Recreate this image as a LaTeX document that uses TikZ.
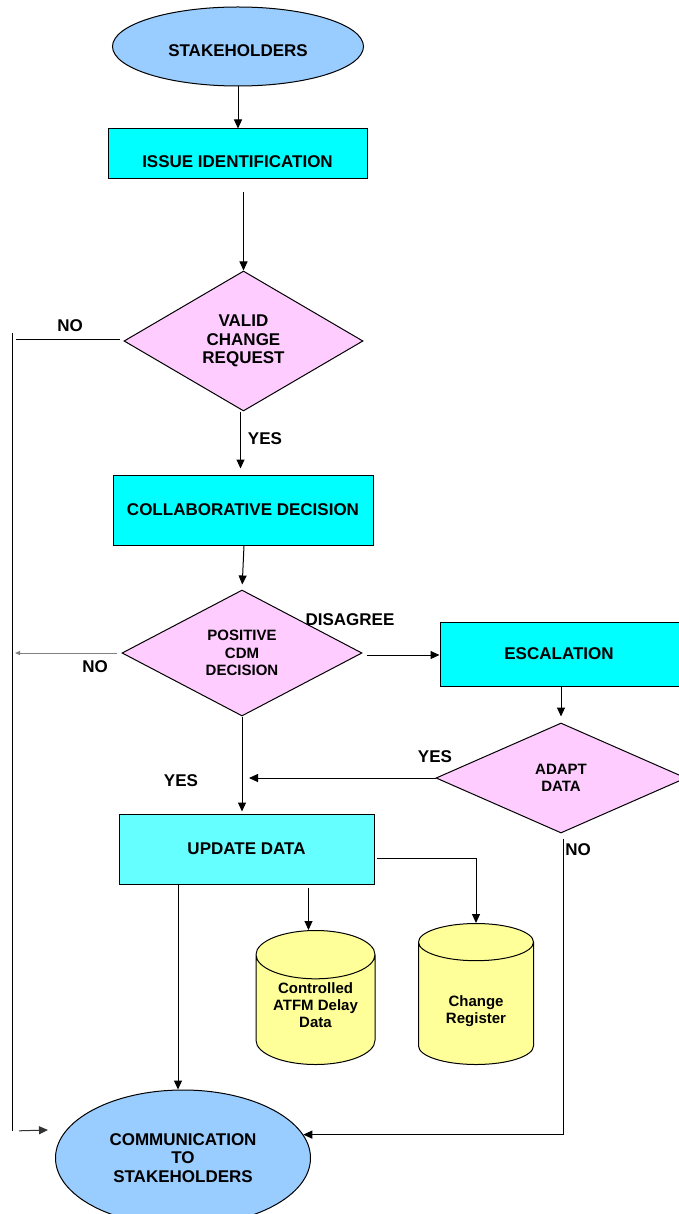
\documentclass[tikz,border=0pt]{standalone}
\usepackage{fontspec}
\setmainfont{Liberation Sans}
\usetikzlibrary{shapes.geometric,arrows.meta}
\definecolor{skyb}{HTML}{99CCFF}
\definecolor{aqua}{HTML}{00FFFF}
\definecolor{aqub}{HTML}{66FFFF}
\definecolor{pnk}{HTML}{FFCCFF}
\definecolor{yelw}{HTML}{FFFF99}
\tikzset{
    EL/.style ={ellipse,draw,fill=skyb,inner sep=0pt,align=center},
    RB/.style ={rectangle,draw,fill=aqua,inner sep=0pt,align=center},
    DI/.style ={diamond,draw,fill=pnk,inner sep=0pt,align=center},
    CY/.style ={cylinder,shape border rotate=90,draw,cylinder uses custom fill,
        cylinder body fill=yelw,cylinder end fill=yelw,inner sep=0pt,align=center,
        anchor=south,font=\bfseries\fontsize{15}{17}\selectfont},
    SM/.style ={font=\bfseries\fontsize{15}{17.5}\selectfont},
    LB/.style ={inner sep=0pt}}

\begin{document}
\begin{tikzpicture}
        [x=1pt,y=-1pt,line width=1pt,
        every node/.style={font=\bfseries\fontsize{17}{18.5}\selectfont},
        AR/.style={-{Triangle[length=9pt,width=8pt]}}]
    \useasboundingbox (0,0) rectangle (679,1214);
    \node[EL,minimum width=251pt,minimum height=79pt,text height=20pt,text depth=0pt](stake) at(238,46.5){STAKEHOLDERS};
    \node[RB,minimum width=259pt,minimum height=50pt,text height=28pt,text depth=0pt](issue) at(237.5,154){ISSUE IDENTIFICATION};
    \node[DI,minimum width=239pt,minimum height=140pt](valid) at(243.5,341){VALID\\CHANGE\\REQUEST};
    \node[RB,minimum width=260pt,minimum height=70pt](collab) at(243,510){COLLABORATIVE DECISION};
    \node[DI,SM,minimum width=240pt,minimum height=126pt](posit) at(242,653){POSITIVE\\CDM\\DECISION};
    \node[RB,minimum width=260pt,minimum height=64pt](escal) at(570,654){ESCALATION\hspace*{22pt}};
    \node[DI,SM,minimum width=250pt,minimum height=110pt](adapt) at(561,778){ADAPT\\DATA};
    \node[RB,fill=aqub,minimum width=255pt,minimum height=70pt](update) at(246.5,849){UPDATE DATA};
    \node[CY,minimum width=119pt,minimum height=134pt,aspect=0.57,text depth=10pt](cdata) at(315.5,1065){Controlled\\ATFM Delay\\Data};
    \node[CY,minimum width=115pt,minimum height=141pt,aspect=0.62,text height=44pt](chreg) at(476,1065){Change\\Register};
    \node[EL,minimum width=255pt,minimum height=136pt](comm) at(183,1158){COMMUNICATION\\TO\\STAKEHOLDERS};
    % labels
    \node[LB](no1) at(70,326){NO};
    \node[LB](yes1) at(265,439){YES};
    \node[LB](disag) at(350,620){DISAGREE};
    \node[LB](no2) at(95,667){NO};
    \node[LB](yes2) at(435,757){YES};
    \node[LB](yes3) at(181,781){YES};
    \node[LB](no3) at(578,850){NO};
    % left return line
    \coordinate(ltop) at(12,333);
    \coordinate(lbot) at(12,1131);
    \coordinate(lin) at(48,1130);
    \draw (ltop) -- (lbot);
    \draw[AR,black!80,shorten <=7pt] (lbot) -- (lin);
    % connectors
    \draw[AR] (stake.south) -- (stake.south |- issue.north);
    \draw[AR,shorten <=13pt] (issue.south -| valid.north) -- (valid.north);
    \draw[shorten <=4pt,shorten >=4pt] ([yshift=2pt]valid.west) -- ([yshift=2pt]valid.west -| ltop);
    \draw[AR,shorten >=6pt] ([xshift=-3pt]valid.south) -- ([xshift=-3pt]valid.south |- collab.north);
    \draw[AR,shorten >=5pt] ([xshift=1pt]collab.south) -- (posit.north);
    \draw[-{Triangle[length=5pt,width=4pt]},gray,shorten <=5pt,shorten >=3pt] (posit.west) -- (posit.west -| ltop);
    \draw[AR,shorten <=4pt] ([yshift=-2pt]posit.east) -- ([yshift=-2pt]posit.east -| escal.west);
    \draw[AR,shorten >=6pt] (escal.south -| adapt.north) -- (adapt.north);
    \draw[AR] (adapt.west) -- ([xshift=7pt]adapt.west -| posit.south);
    \draw[AR,shorten >=2pt] (posit.south) -- (posit.south |- update.north);
    \draw[AR,shorten <=3pt] ([xshift=-7pt]update.south -| cdata.north) -- ([xshift=-7pt]cdata.north);
    \draw[AR,shorten <=2pt] ([yshift=-9pt]update.east) -| (chreg.north);
    \draw[AR] ([xshift=-5pt]comm.north |- update.south) -- ([xshift=-5pt]comm.north);
    \draw[AR,shorten <=5pt] ([xshift=2pt]adapt.south) |- (comm.11);
\end{tikzpicture}
\end{document}
